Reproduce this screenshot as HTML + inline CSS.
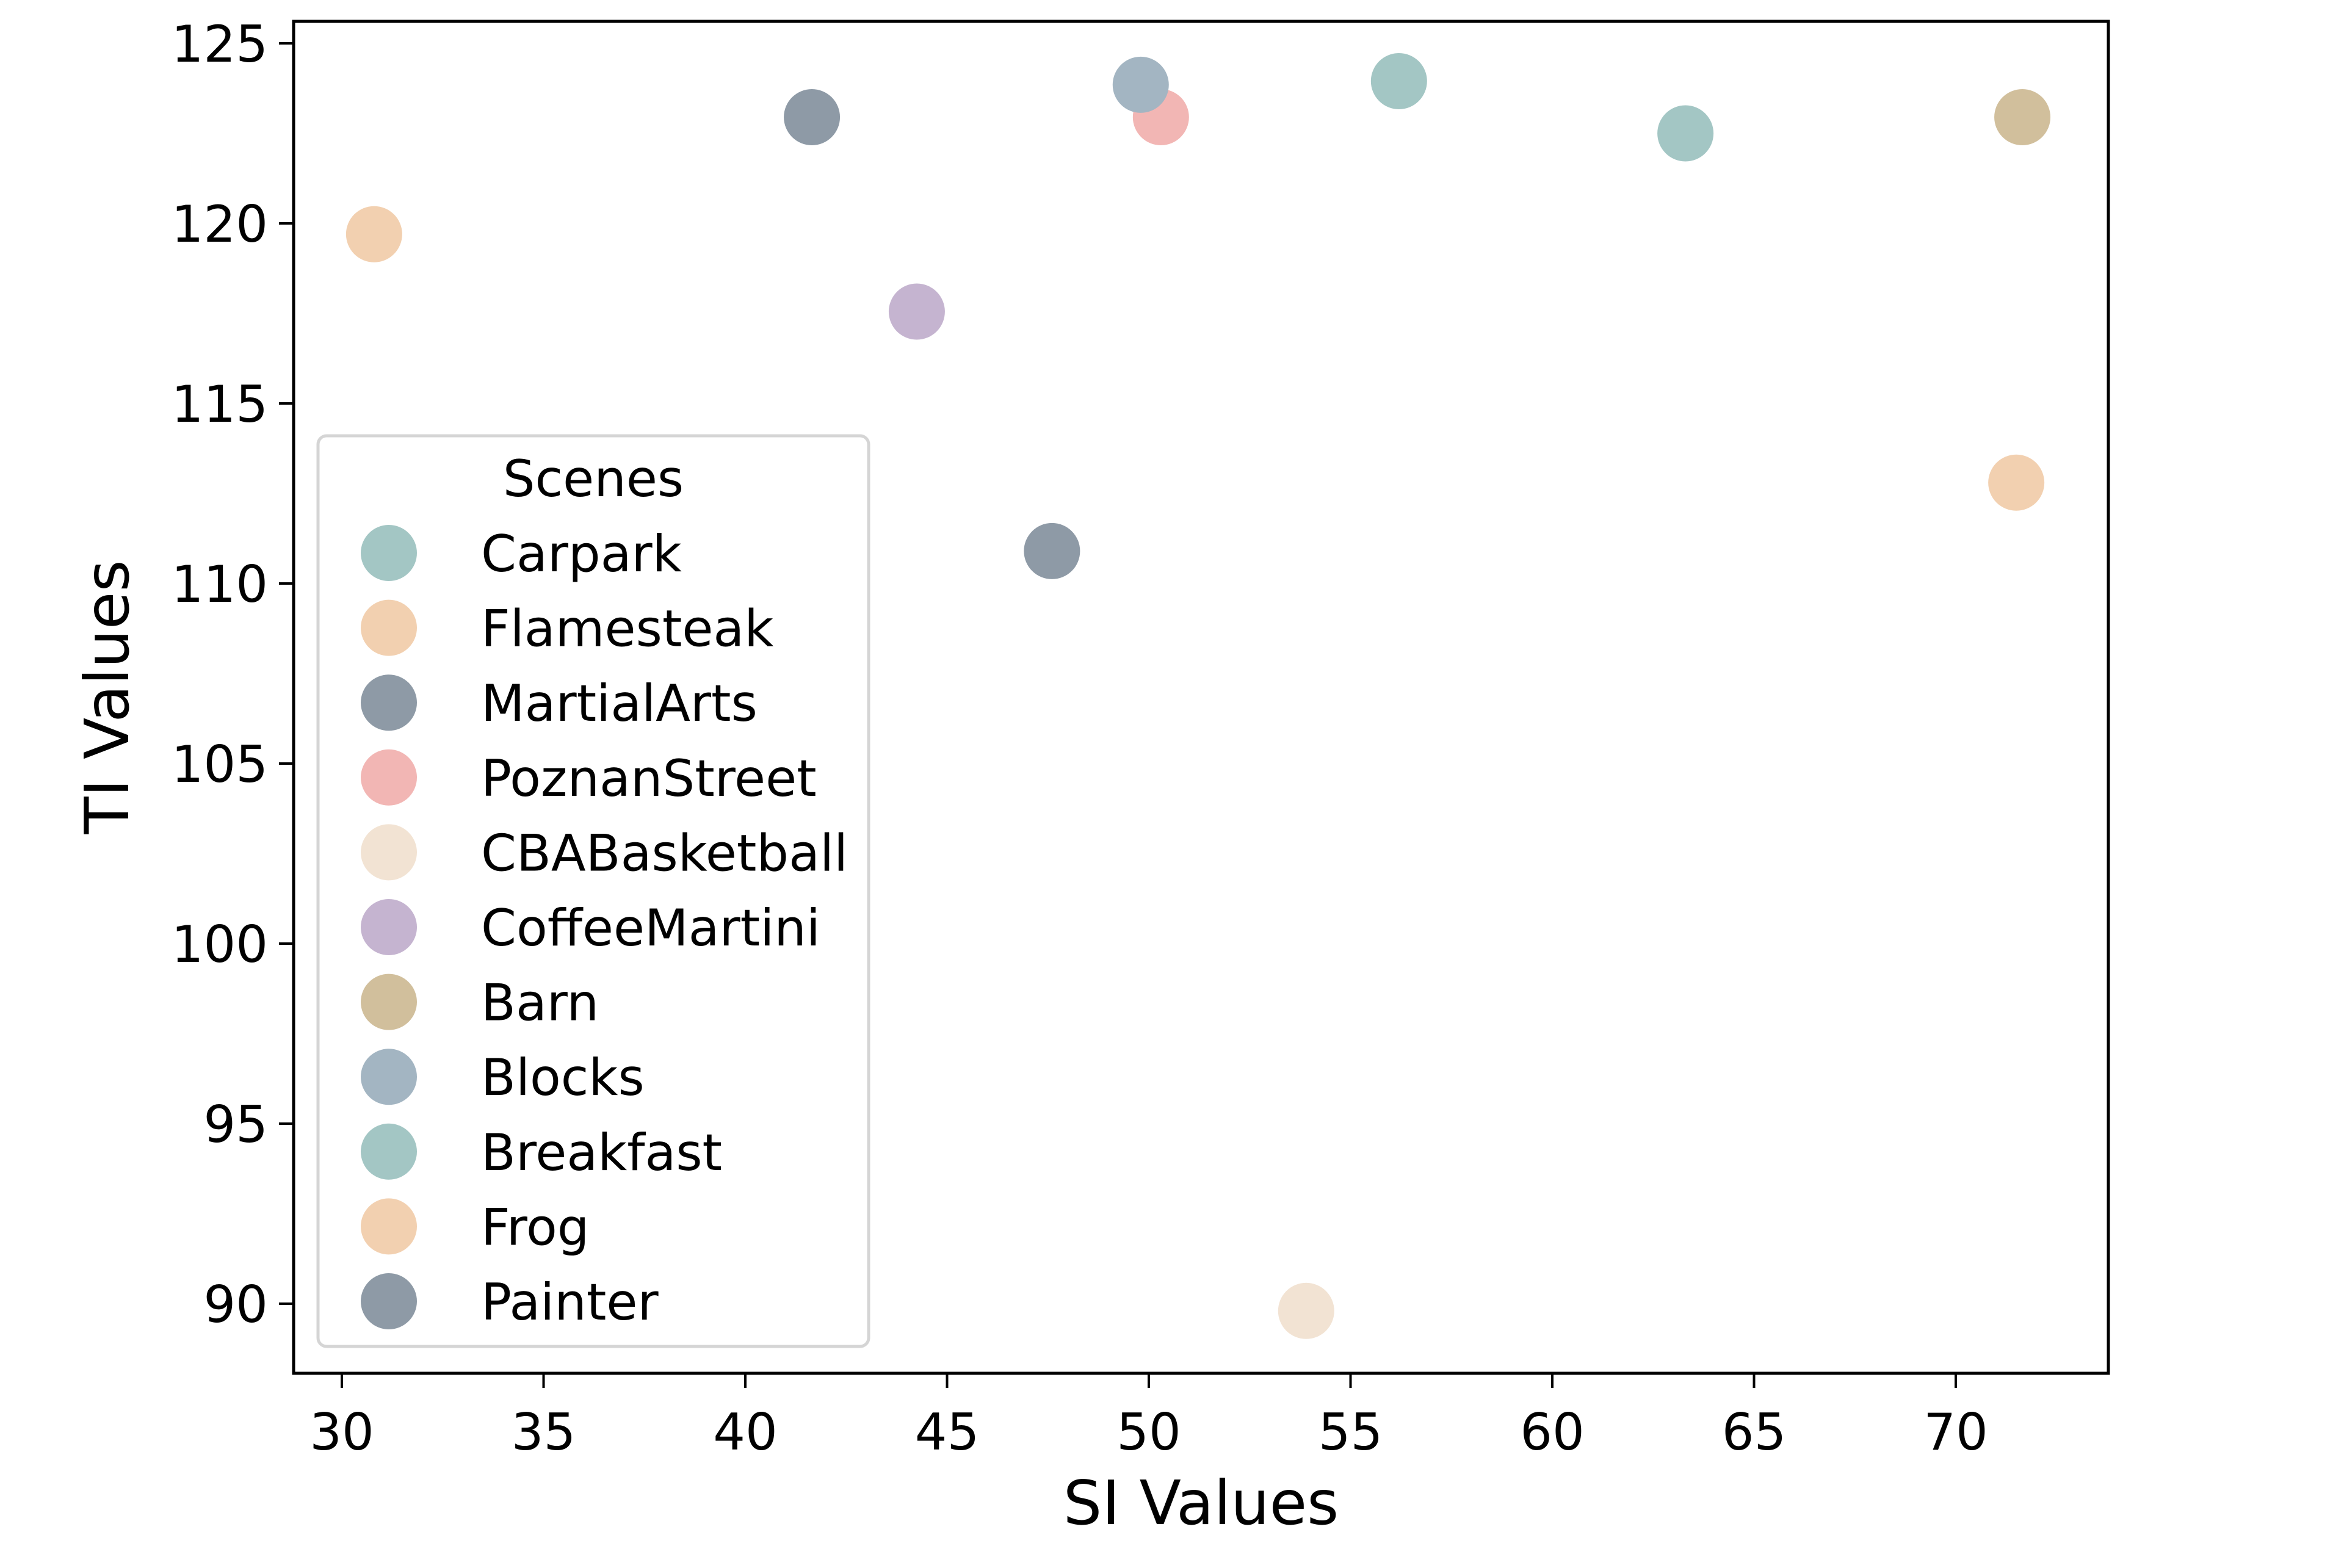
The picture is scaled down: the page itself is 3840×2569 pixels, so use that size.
<!DOCTYPE html>
<html><head><meta charset="utf-8"><style>
html,body{margin:0;padding:0;background:#fff}
svg{display:block;font-family:"DejaVu Sans","Liberation Sans",sans-serif}
</style></head><body>
<svg id="chart" width="3840" height="2569" viewBox="0 0 3840 2569" xmlns="http://www.w3.org/2000/svg">
<rect width="3840" height="2569" fill="#fff"/>
<g id="marks"></g>
<g id="axes"></g>
<g id="legend"></g>
</svg>
<script>
const scenes = ["Carpark","Flamesteak","MartialArts","PoznanStreet","CBABasketball","CoffeeMartini","Barn","Blocks","Breakfast","Frog","Painter"];
const siValues = [56.2,30.8,41.65,50.3,53.9,44.25,71.65,49.8,63.3,71.5,47.6];
const tiValues = [123.95,119.7,122.95,122.95,89.8,117.55,122.95,123.85,122.5,112.8,110.9];
const colors = ["#a3c6c4","#f2d0b0","#8e9aa6","#f2b6b4","#f2e3d3","#c5b4d0","#d1bf9c","#a3b5c2","#a3c6c4","#f2d0b0","#8e9aa6"];
const xTicks = [30,35,40,45,50,55,60,65,70];
const yTicks = [90,95,100,105,110,115,120,125];

const NS="http://www.w3.org/2000/svg";
const L=481,R=3454,T=35,B=2250;
function xs(v){return 560+(v-30)*66.1;}
function ys(v){return 71+(125-v)*59;}
function mk(tag,attrs,parent,txt){const e=document.createElementNS(NS,tag);for(const k in attrs)e.setAttribute(k,attrs[k]);if(txt!==undefined)e.textContent=txt;parent.appendChild(e);return e;}

const marks=document.getElementById('marks');
scenes.forEach((s,i)=>{
  const c=mk('circle',{cx:xs(siValues[i]),cy:ys(tiValues[i]),r:46,fill:colors[i]},marks);
  
  
});

const axes=document.getElementById('axes');
const frame=mk('rect',{x:L,y:T,width:R-L,height:B-T,fill:'none',stroke:'#000','stroke-width':5},axes);


xTicks.forEach(t=>{
  const x=xs(t);
  mk('line',{x1:x,x2:x,y1:B,y2:B+24,stroke:'#000','stroke-width':4},axes);
  const lb=mk('text',{x:x,y:2375,'text-anchor':'middle','font-size':83,fill:'#000'},axes,String(t));
  
  
});
yTicks.forEach(t=>{
  const y=ys(t);
  mk('line',{x1:L,x2:L-24,y1:y,y2:y,stroke:'#000','stroke-width':4},axes);
  const lb=mk('text',{x:L-42,y:y+30,'text-anchor':'end','font-size':83,fill:'#000'},axes,String(t));
  
  
});
const xl=mk('text',{x:(L+R)/2,y:2497,'text-anchor':'middle','font-size':100,fill:'#000'},axes,'SI Values');


const yl=mk('text',{x:0,y:0,'text-anchor':'middle','font-size':100,fill:'#000',transform:'translate(210,1142) rotate(-90)'},axes,'TI Values');



const lg=document.getElementById('legend');
const box=mk('rect',{x:521,y:714,width:902,height:1492,rx:14,fill:'#fff','fill-opacity':0.8,stroke:'#d5d5d5','stroke-width':5},lg);


const lt=mk('text',{x:972,y:813,'text-anchor':'middle','font-size':83,fill:'#000'},lg,'Scenes');


scenes.forEach((s,i)=>{
  const y=906+i*122.6;
  const g=mk('g',{},lg);
  
  
  mk('circle',{cx:637,cy:y,r:46,fill:colors[i]},g);
  mk('text',{x:788,y:y+30,'font-size':83,fill:'#000'},g,s);
});
</script>
</body></html>
